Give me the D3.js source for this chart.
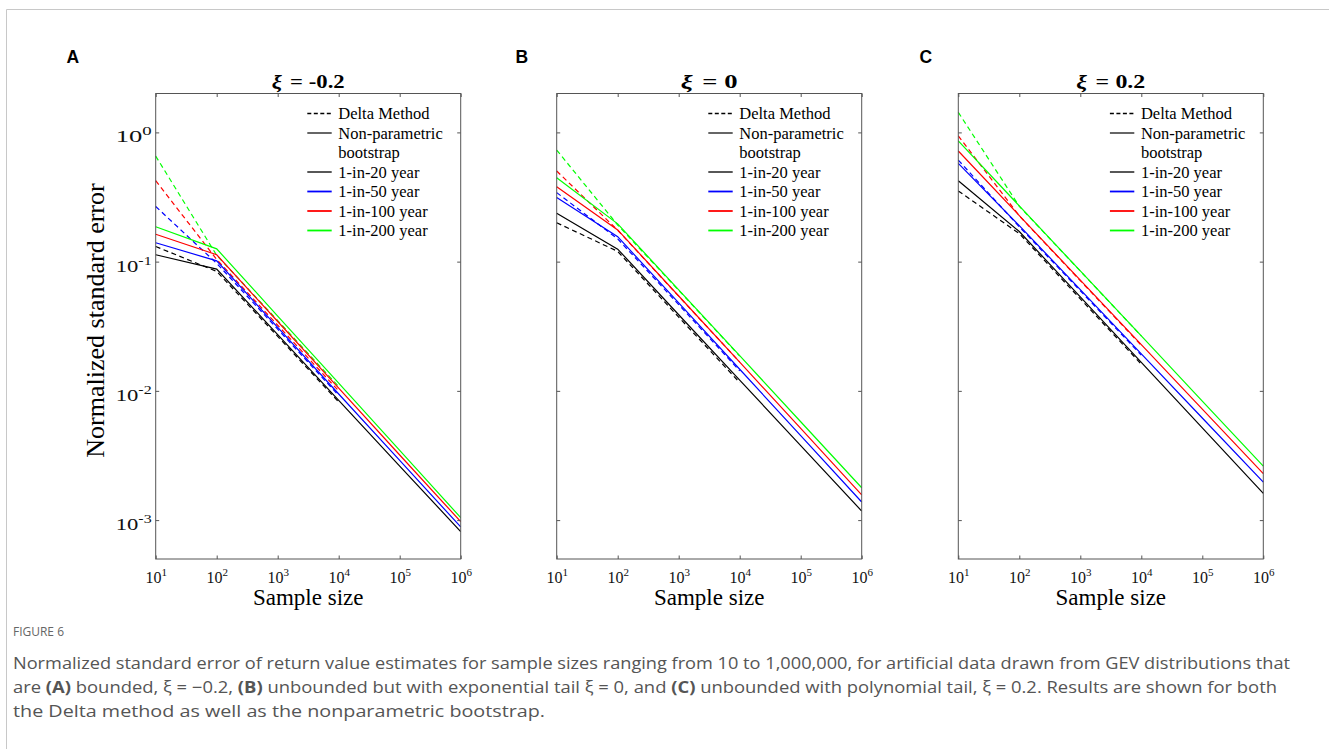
<!DOCTYPE html>
<html><head><meta charset="utf-8">
<script src="https://cdn.jsdelivr.net/npm/d3@7"></script>
<style>body{margin:0;background:#fff}svg{display:block}</style>
</head><body>
<svg id="c" width="1329" height="749"></svg>
<script>
// ---------------- data ----------------
const xTicks = [1e1, 1e2, 1e3, 1e4, 1e5, 1e6];
const yTicks = [1e-3, 1e-2, 1e-1, 1e0];
const bootN = [10, 100, 1e3, 1e4, 1e5, 1e6];
const deltaN = [10, 100, 1e3, 1e4];
const periods = ["1-in-20 year", "1-in-50 year", "1-in-100 year", "1-in-200 year"];
const panelLabels = ["A", "B", "C"];
const xiValues = ["-0.2", "0", "0.2"];
const legendMethods = ["Delta Method", "Non-parametric", "bootstrap"];

// rows: 1-in-20, 1-in-50, 1-in-100, 1-in-200
const bootA = [
  [0.113, 0.0875, 0.0272, 0.00843, 0.00262, 0.000815],
  [0.140, 0.1014, 0.0310, 0.00946, 0.00290, 0.000885],
  [0.163, 0.113, 0.0344, 0.0105, 0.00319, 0.000973],
  [0.186, 0.1256, 0.0379, 0.01146, 0.00346, 0.001045]
];
const deltaA = [
  [0.131, 0.084, 0.0264, 0.0082],
  [0.267, 0.097, 0.0300, 0.0092],
  [0.423, 0.104, 0.0322, 0.0100],
  [0.656, 0.112, 0.0350, 0.0108]
];
const bootB = [
  [0.237, 0.125, 0.0388, 0.0121, 0.00377, 0.001175],
  [0.313, 0.156, 0.0479, 0.01469, 0.0045, 0.00138],
  [0.380, 0.176, 0.0542, 0.01667, 0.00513, 0.00157],
  [0.446, 0.196, 0.0605, 0.01871, 0.00577, 0.00178]
];
const deltaB = [
  [0.200, 0.120, 0.0372, 0.0116],
  [0.342, 0.150, 0.0465, 0.0143],
  [0.503, 0.175, 0.0540, 0.0167],
  [0.730, 0.192, 0.0600, 0.0186]
];
const bootC = [
  [0.423, 0.171, 0.0533, 0.0166, 0.00517, 0.00161],
  [0.576, 0.190, 0.0607, 0.01936, 0.00617, 0.00197],
  [0.718, 0.227, 0.0719, 0.0228, 0.00722, 0.00229],
  [0.861, 0.270, 0.0847, 0.0266, 0.00834, 0.00262]
];
const deltaC = [
  [0.352, 0.165, 0.0515, 0.0161],
  [0.611, 0.186, 0.0595, 0.0189],
  [0.940, 0.226, 0.0712, 0.0225],
  [1.430, 0.268, 0.0845, 0.0266]
];
const bootData = [bootA, bootB, bootC];
const deltaData = [deltaA, deltaB, deltaC];

const captionTitle = "FIGURE 6";
const captionLine1 = "Normalized standard error of return value estimates for sample sizes ranging from 10 to 1,000,000, for artificial data drawn from GEV distributions that";
const captionLine2 = [["are ", false], ["(A)", true], [" bounded, ξ = −0.2, ", false], ["(B)", true], [" unbounded but with exponential tail ξ = 0, and ", false], ["(C)", true], [" unbounded with polynomial tail, ξ = 0.2. Results are shown for both", false]];
const captionLine3 = "the Delta method as well as the nonparametric bootstrap.";

// ---------------- style ----------------
const colors = ["#000000", "#0000ff", "#ff0000", "#00ff00"];
const legendColors = ["#444444", "#0000ff", "#ff0000", "#00ff00"];
const serif = "'Liberation Serif','Times New Roman',serif";
const axisColor = "#555";
const panelLefts = [155.7, 556.7, 958.3];
const panelLabelX = [66.5, 515.5, 919.5];
const titleWidths = [73, 57, 69];
const captionWidths = [1277, 1264, 532];
const panelW = 305;
const plotTop = 93.5, plotBottom = 559;

const svg = d3.select("#c");

// card border
svg.append("line").attr("x1", 6.5).attr("x2", 1329).attr("y1", 9.5).attr("y2", 9.5).attr("stroke", "#c8c8c8").attr("stroke-width", 1);
svg.append("line").attr("x1", 6.5).attr("x2", 6.5).attr("y1", 9.5).attr("y2", 749).attr("stroke", "#c8c8c8").attr("stroke-width", 1);

const supLabel = (sel, v, supSize) => {
  const e = Math.round(Math.log10(v));
  sel.text(null);
  sel.append("tspan").text("10");
  sel.append("tspan").attr("dy", -7).attr("font-size", supSize).text(String(e));
};

panelLefts.forEach((left, pi) => {
  const x = d3.scaleLog().domain([10, 1e6]).range([left, left + panelW]);
  const y = d3.scaleLog().domain([5e-4, 2]).range([plotBottom, plotTop]);
  const g = svg.append("g");

  // panel label
  g.append("text").attr("x", panelLabelX[pi]).attr("y", 63)
    .attr("font-family", "'Liberation Sans',Arial,sans-serif").attr("font-weight", "bold")
    .attr("font-size", 17.5).attr("fill", "#000").text(panelLabels[pi]);

  // title
  const t = g.append("text").attr("x", left + panelW / 2 - titleWidths[pi] / 2).attr("y", 87.5)
    .attr("font-family", serif).attr("font-weight", "bold")
    .attr("font-size", 19.5).attr("fill", "#000")
    .attr("textLength", titleWidths[pi]).attr("lengthAdjust", "spacingAndGlyphs");
  t.append("tspan").attr("font-style", "italic").text("ξ");
  t.append("tspan").attr("dx", 7).text("=");
  t.append("tspan").attr("dx", 5).text(xiValues[pi]);

  // lines
  const line = d3.line().x(d => x(d[0])).y(d => y(d[1]));
  deltaData[pi].forEach((row, k) => {
    g.append("path").datum(deltaN.map((n, i) => [n, row[i]]))
      .attr("d", line).attr("fill", "none").attr("stroke", colors[k])
      .attr("stroke-width", 1.2).attr("stroke-dasharray", "5,3.5");
  });
  bootData[pi].forEach((row, k) => {
    g.append("path").datum(bootN.map((n, i) => [n, row[i]]))
      .attr("d", line).attr("fill", "none").attr("stroke", colors[k])
      .attr("stroke-width", 1.2);
  });

  // axes (ticks inward on all sides)
  const tickStyle = s => {
    s.select(".domain").remove();
    s.selectAll(".tick line").attr("stroke", axisColor);
  };
  g.append("g").attr("transform", `translate(0,${plotBottom})`)
    .call(d3.axisBottom(x).tickValues(xTicks).tickSize(-3.5).tickPadding(0))
    .call(tickStyle)
    .call(s => s.selectAll(".tick text").each(function (d) {
      const tt = d3.select(this).attr("y", 24).attr("dy", null)
        .attr("font-family", serif).attr("font-size", 16).attr("fill", "#111");
      supLabel(tt, d, 11);
    }));
  g.append("g").attr("transform", `translate(0,${plotTop})`)
    .call(d3.axisTop(x).tickValues(xTicks).tickSize(-3.5).tickFormat(""))
    .call(tickStyle);
  g.append("g").attr("transform", `translate(${left},0)`)
    .call(d3.axisLeft(y).tickValues(yTicks).tickSize(-3.5).tickFormat(pi === 0 ? null : ""))
    .call(tickStyle)
    .call(s => { if (pi === 0) s.selectAll(".tick text").each(function (d) {
      const tt = d3.select(this).attr("x", -40).attr("dy", null).attr("y", 9.5)
        .attr("text-anchor", "start").attr("font-family", serif).attr("font-size", 17).attr("fill", "#111")
        .attr("textLength", 36).attr("lengthAdjust", "spacingAndGlyphs");
      supLabel(tt, d, 12);
    }); });
  g.append("g").attr("transform", `translate(${left + panelW},0)`)
    .call(d3.axisRight(y).tickValues(yTicks).tickSize(-3.5).tickFormat(""))
    .call(tickStyle);

  g.append("rect").attr("x", left).attr("y", plotTop).attr("width", panelW).attr("height", plotBottom - plotTop)
    .attr("fill", "none").attr("stroke", axisColor).attr("stroke-width", 1);

  // x label
  g.append("text").attr("x", left + panelW / 2).attr("y", 605).attr("text-anchor", "middle")
    .attr("font-family", serif).attr("font-size", 23).attr("fill", "#000").text("Sample size");

  // legend
  const lx0 = left + 151.6, lx1 = left + 176, tx = left + 182.6;
  const rowY = [113.5, 133, 152.5, 172, 191.5, 211, 230.5];
  const lg = g.append("g").attr("font-family", serif).attr("font-size", 16.5).attr("fill", "#000");
  lg.append("line").attr("x1", lx0).attr("x2", lx1).attr("y1", rowY[0]).attr("y2", rowY[0])
    .attr("stroke", "#000").attr("stroke-width", 1.3).attr("stroke-dasharray", "4,2.5");
  lg.append("line").attr("x1", lx0).attr("x2", lx1).attr("y1", rowY[1]).attr("y2", rowY[1])
    .attr("stroke", "#000").attr("stroke-width", 1.2);
  legendMethods.forEach((m, i) => lg.append("text").attr("x", tx).attr("y", rowY[i] + 5.5).text(m));
  periods.forEach((p, k) => {
    const yy = rowY[3 + k];
    lg.append("line").attr("x1", lx0).attr("x2", lx1).attr("y1", yy).attr("y2", yy)
      .attr("stroke", legendColors[k]).attr("stroke-width", 1.8);
    lg.append("text").attr("x", tx).attr("y", yy + 5.5).text(p);
  });
});

// y label
svg.append("text").attr("transform", "translate(103.5,320.5) rotate(-90)").attr("text-anchor", "middle")
  .attr("font-family", serif).attr("font-size", 26).attr("fill", "#000").text("Normalized standard error");

// caption
const cap = svg.append("g").attr("font-family", "'Open Sans','Noto Sans',sans-serif").attr("fill", "#555");
cap.append("text").attr("x", 13).attr("y", 636).attr("font-size", 12).attr("fill", "#666")
  .attr("textLength", 51).attr("lengthAdjust", "spacingAndGlyphs").text(captionTitle);
const c1 = cap.append("text").attr("x", 13).attr("y", 669).attr("font-size", 16.5).text(captionLine1);
const c2 = cap.append("text").attr("x", 13).attr("y", 693).attr("font-size", 16.5);
captionLine2.forEach(([s, b]) => c2.append("tspan").attr("font-weight", b ? "bold" : null).text(s));
const c3 = cap.append("text").attr("x", 13).attr("y", 717).attr("font-size", 16.5).text(captionLine3);
[c1, c2, c3].forEach((c, i) => c.attr("textLength", captionWidths[i]).attr("lengthAdjust", "spacingAndGlyphs"));
</script>
</body></html>
